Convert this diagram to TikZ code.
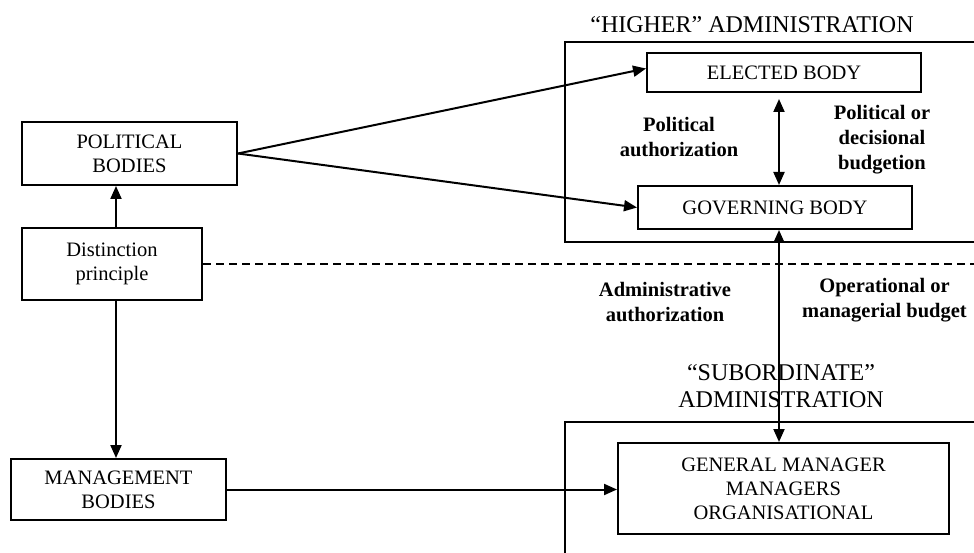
\documentclass[tikz,border=0pt]{standalone}
\usepackage{fontspec}
\setmainfont{Liberation Serif}
\usetikzlibrary{arrows.meta}

\begin{document}
\begin{tikzpicture}[x=1pt,y=-1pt,
    box/.style={draw, line width=2pt, align=center, inner sep=2pt,
      font=\fontsize{20.5}{24}\selectfont},
    lab/.style={align=center, font=\bfseries\fontsize{20.5}{25}\selectfont},
    ttl/.style={align=center, font=\fontsize{24}{27}\selectfont},
    arr/.style={line width=2pt, -{Triangle[length=13pt,width=11pt]}},
    darr/.style={line width=2pt,
      {Triangle[length=13pt,width=11pt]}-{Triangle[length=13pt,width=11pt]}}]

  \useasboundingbox (0,0) rectangle (974,553);

  % the two administrations
  \draw[line width=2pt] (980,42) -- (565,42) -- (565,242) -- (980,242);
  \draw[line width=2pt] (980,422) -- (565,422) -- (565,560);

  \node[ttl] (higher) at (752,25) {“HIGHER” ADMINISTRATION};
  \node[ttl] (subord) at (781,386) {“SUBORDINATE”\\ADMINISTRATION};

  \node[box, minimum width=274, minimum height=39] (elected) at (784,72.5) {ELECTED BODY};
  \node[box, minimum width=274, minimum height=43] (gov) at (775,207.5) {GOVERNING BODY};
  \node[box, minimum width=331, minimum height=91] (gm) at (783.5,488.5)
    {GENERAL MANAGER\\MANAGERS\\ORGANISATIONAL};

  % left column
  \node[box, minimum width=215, minimum height=63] (pol) at (129.5,153.5) {POLITICAL\\BODIES};
  \node[box, minimum width=180, minimum height=72] (dist) at (112,264) {Distinction\\principle};
  \node[box, minimum width=215, minimum height=61] (mgmt) at (118.5,489.5) {MANAGEMENT\\BODIES};

  \coordinate (lcol) at (116,0);
  \coordinate (rcol) at (779,0);
  \coordinate (dashend) at (980,264);

  \draw[line width=2pt, dash pattern=on 8pt off 5pt] (dist.east) -- (dashend);

  \draw[arr] (dist.north -| lcol) -- (pol.south -| lcol);
  \draw[arr] (dist.south -| lcol) -- (mgmt.north -| lcol);
  \draw[arr] (pol.east) -- ([yshift=4]elected.west);
  \draw[arr] (pol.east) -- (gov.west);
  \draw[arr] (mgmt.east) -- (mgmt.east -| gm.west);
  \draw[darr, shorten <=6pt] (elected.south -| rcol) -- (gov.north -| rcol);
  \draw[darr] (gov.south -| rcol) -- (gm.north -| rcol);

  % labels
  \node[lab] (polauth) at (679,137) {Political\\authorization};
  \node[lab] (polbud) at (882,140) {Political or\\decisional\\budgetion};
  \node[lab] (admauth) at (665,302) {Administrative\\authorization};
  \node[lab] (opbud) at (884.5,300) {Operational or\\managerial budget};

\end{tikzpicture}
\end{document}
